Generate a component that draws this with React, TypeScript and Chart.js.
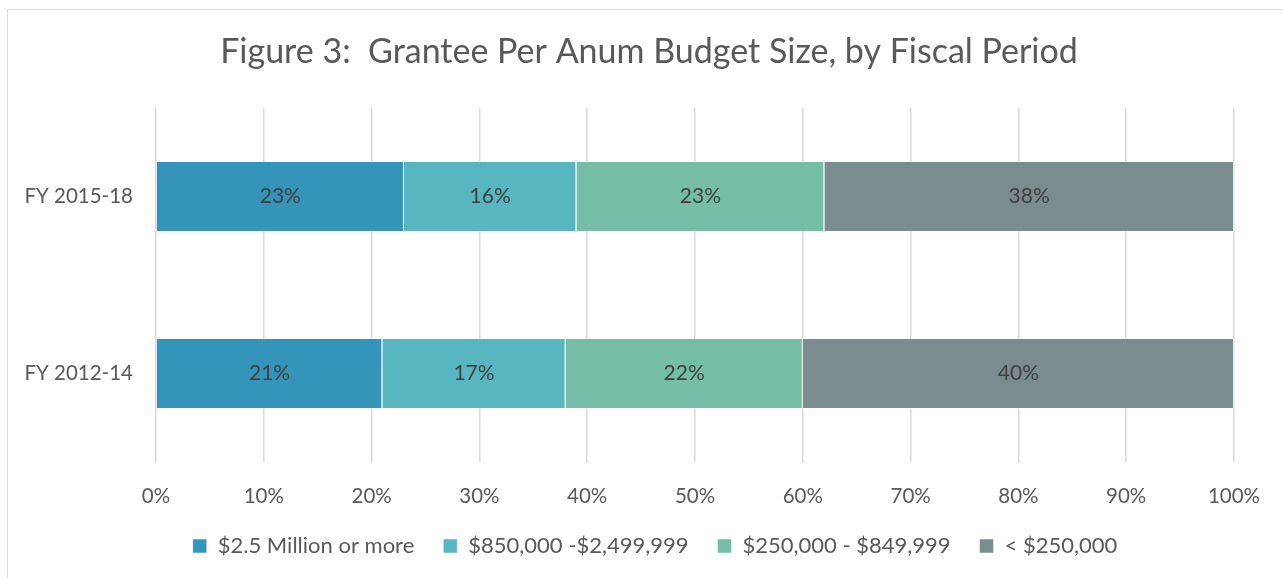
import React, { useEffect, useRef } from "react";
import { Chart, registerables } from "chart.js";

Chart.register(...registerables);

const categories = ["FY 2015-18", "FY 2012-14"];
const seriesNames = ["$2.5 Million or more", "$850,000 -$2,499,999", "$250,000 - $849,999", "< $250,000"];
const seriesMillion = [23, 21];
const series850k = [16, 17];
const series250k = [23, 22];
const seriesUnder250k = [38, 40];
const seriesColors = ["#3494BA", "#58B6C0", "#75BDA7", "#7A8C8E"];
const xTicks = [0, 10, 20, 30, 40, 50, 60, 70, 80, 90, 100];

const FONT = "Lato, 'Open Sans', sans-serif";

const dataLabelPlugin = {
  id: "dataLabels",
  afterDatasetsDraw(chart: any) {
    const ctx = chart.ctx;
    ctx.save();
    ctx.font = `21px ${FONT}`;
    ctx.fillStyle = "#404040";
    ctx.textAlign = "center";
    ctx.textBaseline = "middle";
    chart.data.datasets.forEach((ds: any, i: number) => {
      const meta = chart.getDatasetMeta(i);
      meta.data.forEach((el: any, j: number) => {
        const p = el.getCenterPoint();
        ctx.fillText(`${ds.data[j]}%`, p.x, p.y);
      });
    });
    ctx.restore();
  },
};

const boxShiftPlugin = {
  id: "boxShift",
  afterLayout(chart: any) {
    if (chart.legend) {
      chart.legend.left += 34;
      chart.legend.right += 34;
    }
    if (chart.titleBlock) {
      chart.titleBlock.left += 28;
      chart.titleBlock.right += 28;
    }
  },
};

export default function App() {
  const ref = useRef<HTMLCanvasElement>(null);
  useEffect(() => {
    document.documentElement.style.overflow = "hidden";
    document.body.style.overflow = "hidden";
    const values = [seriesMillion, series850k, series250k, seriesUnder250k];
    const chart = new Chart(ref.current!, {
      type: "bar",
      data: {
        labels: categories,
        datasets: values.map((d, i) => ({
          label: seriesNames[i],
          data: d,
          backgroundColor: seriesColors[i],
          borderColor: "rgba(255,255,255,0.5)",
          borderWidth: 1,
          barPercentage: 0.8,
          categoryPercentage: 0.5,
        })),
      },
      options: {
        indexAxis: "y",
        animation: false,
        responsive: false,
        layout: { padding: { left: 0, right: 49, top: 0, bottom: 11 } },
        plugins: {
          title: {
            display: true,
            text: "Figure 3:  Grantee Per Anum Budget Size, by Fiscal Period",
            color: "#595959",
            font: { family: FONT, size: 34, weight: "normal" },
            padding: { top: 21.6, bottom: 35.6 },
          },
          legend: {
            position: "bottom",
            labels: {
              color: "#595959",
              font: { family: FONT, size: 22 },
              boxWidth: 14,
              boxHeight: 14,
              padding: 29,
            },
          },
          tooltip: { enabled: false },
        },
        scales: {
          x: {
            stacked: true,
            min: 0,
            max: 100,
            afterBuildTicks: (axis: any) => {
              axis.ticks = xTicks.map((v) => ({ value: v }));
            },
            afterFit: (axis: any) => {
              axis.height = 44;
            },
            border: { display: false },
            grid: { color: "#d9d9d9", lineWidth: 1.5, drawTicks: false },
            ticks: {
              padding: 22,
              color: "#595959",
              font: { family: FONT, size: 20.5 },
              callback: (v: any) => `${v}%`,
            },
          },
          y: {
            stacked: true,
            afterFit: (axis: any) => {
              axis.width = 148;
            },
            border: { display: false },
            grid: { display: false, drawTicks: false },
            ticks: {
              padding: 23,
              color: "#595959",
              font: { family: FONT, size: 20.5 },
            },
          },
        },
      },
      plugins: [dataLabelPlugin, boxShiftPlugin],
    } as any);
    return () => chart.destroy();
  }, []);

  return (
    <div
      style={{
        position: "absolute",
        left: 7,
        top: 9,
        width: 1276,
        height: 580,
        border: "1px solid #d9d9d9",
        boxSizing: "content-box",
      }}
    >
      <canvas ref={ref} width={1275} height={568} style={{ display: "block" }} />
    </div>
  );
}
